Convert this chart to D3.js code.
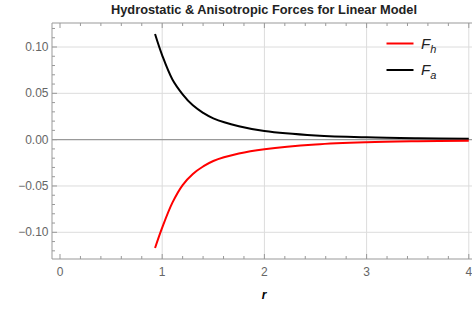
<!DOCTYPE html>
<html lang="en">
<head>
<meta charset="UTF-8">
<title>Hydrostatic & Anisotropic Forces</title>
<script src="https://d3js.org/d3.v7.min.js"></script>
<style>
    body { margin: 0; background: #fff; }
    svg { display: block; font-family: "Liberation Sans", Arial, sans-serif; }
    .tick-label { fill: #666; font-size: 12px; }
</style>
</head>
<body>
<svg id="chart" width="472" height="310"></svg>
<script>
    // values
    const rValues = [0.93, 1.0, 1.1, 1.2, 1.3, 1.4, 1.5, 1.75, 2.0, 2.5, 3.0, 3.5, 4.0];
    const fHydro  = [-0.117, -0.095, -0.068, -0.049, -0.037, -0.029, -0.023, -0.015, -0.0103, -0.0052, -0.0028, -0.0017, -0.0011];
    const fAniso  = [0.114, 0.091, 0.065, 0.049, 0.037, 0.029, 0.023, 0.0145, 0.0094, 0.0046, 0.0025, 0.0015, 0.0010];
    const xTicks = [0, 1, 2, 3, 4];
    const yTicks = [-0.10, -0.05, 0.00, 0.05, 0.10];

    const svg = d3.select('#chart');
    const frame = { left: 52, top: 23, right: 480, bottom: 259 };

    const x = d3.scaleLinear().domain([0, 4]).range([60, 468.8]);
    const y = d3.scaleLinear().domain([0.1, -0.1]).range([47, 232.3]);

    // grid
    const grid = svg.append('g');
    grid.selectAll('line.gx').data(xTicks.filter(d => d > 0)).join('line')
        .attr('x1', d => x(d)).attr('x2', d => x(d))
        .attr('y1', frame.top).attr('y2', frame.bottom)
        .attr('stroke', '#dcdcdc').attr('stroke-width', 1);
    grid.selectAll('line.gy').data(yTicks.filter(d => d !== 0)).join('line')
        .attr('x1', frame.left).attr('x2', frame.right)
        .attr('y1', d => y(d)).attr('y2', d => y(d))
        .attr('stroke', '#dcdcdc').attr('stroke-width', 1);

    // zero axis
    svg.append('line')
        .attr('x1', frame.left).attr('x2', frame.right)
        .attr('y1', y(0)).attr('y2', y(0))
        .attr('stroke', '#999').attr('stroke-width', 1.3);

    // curves
    const line = d3.line()
        .x(d => x(d[0])).y(d => y(d[1]))
        .curve(d3.curveCatmullRom.alpha(0.5));
    svg.append('path')
        .datum(d3.zip(rValues, fAniso))
        .attr('d', line).attr('fill', 'none')
        .attr('stroke', '#000').attr('stroke-width', 2);
    svg.append('path')
        .datum(d3.zip(rValues, fHydro))
        .attr('d', line).attr('fill', 'none')
        .attr('stroke', '#f00').attr('stroke-width', 2);

    // frame
    const fr = svg.append('g').attr('stroke', '#999').attr('stroke-width', 1);
    fr.append('line').attr('x1', frame.left).attr('x2', frame.left).attr('y1', frame.top).attr('y2', frame.bottom);
    fr.append('line').attr('x1', frame.left).attr('x2', frame.right).attr('y1', frame.bottom).attr('y2', frame.bottom);
    fr.append('line').attr('x1', frame.left).attr('x2', frame.right).attr('y1', frame.top).attr('y2', frame.top);

    // ticks
    const xMinor = d3.range(0, 4.01, 0.2);
    const yMinor = d3.range(-0.12, 0.121, 0.01);
    const tk = svg.append('g').attr('stroke', '#999').attr('stroke-width', 1);
    xMinor.forEach(v => {
        const major = Math.abs(v - Math.round(v)) < 1e-6;
        const len = major ? 5 : 3;
        tk.append('line').attr('x1', x(v)).attr('x2', x(v)).attr('y1', frame.bottom).attr('y2', frame.bottom - len);
        tk.append('line').attr('x1', x(v)).attr('x2', x(v)).attr('y1', frame.top).attr('y2', frame.top + len);
    });
    yMinor.forEach(v => {
        const major = Math.abs(v * 20 - Math.round(v * 20)) < 1e-6;
        const len = major ? 5 : 3;
        tk.append('line').attr('x1', frame.left).attr('x2', frame.left + len).attr('y1', y(v)).attr('y2', y(v));
    });

    // tick labels
    const fmt = d3.format('.2f');
    svg.selectAll('text.xl').data(xTicks).join('text')
        .attr('class', 'tick-label')
        .attr('x', d => x(d)).attr('y', 276)
        .attr('text-anchor', 'middle')
        .text(d => d);
    svg.selectAll('text.yl').data(yTicks).join('text')
        .attr('class', 'tick-label')
        .attr('x', 48.5).attr('y', d => y(d) + 4)
        .attr('text-anchor', 'end')
        .text(d => fmt(d).replace('-', '\u2212'));

    // title and axis label
    svg.append('text')
        .attr('x', 264).attr('y', 14)
        .attr('text-anchor', 'middle')
        .attr('font-size', 12.8).attr('font-weight', 'bold').attr('fill', '#222')
        .text('Hydrostatic & Anisotropic Forces for Linear Model');
    svg.append('text')
        .attr('x', 264).attr('y', 299)
        .attr('text-anchor', 'middle')
        .attr('font-size', 12).attr('font-weight', 'bold').attr('font-style', 'italic')
        .text('r');

    // legend
    const legend = [
        { name: 'F', sub: 'h', color: '#f00' },
        { name: 'F', sub: 'a', color: '#000' }
    ];
    const lg = svg.append('g');
    legend.forEach((d, i) => {
        const ly = 43.5 + i * 26.5;
        lg.append('line').attr('x1', 386.5).attr('x2', 413.5).attr('y1', ly).attr('y2', ly)
            .attr('stroke', d.color).attr('stroke-width', 2);
        const t = lg.append('text').attr('x', 421).attr('y', ly + 5)
            .attr('font-size', 15).attr('font-style', 'italic').attr('fill', '#222');
        t.append('tspan').text(d.name);
        t.append('tspan').attr('dy', 4).attr('font-size', 11).text(d.sub);
    });
</script>
</body>
</html>
